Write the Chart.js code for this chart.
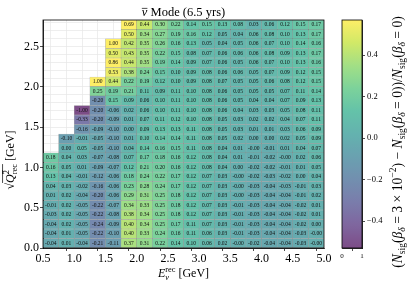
<!DOCTYPE html>
<html>
<head>
<meta charset="utf-8">
<script src="https://cdn.jsdelivr.net/npm/chart.js@4.4.1/dist/chart.umd.min.js"></script>
<style>
html, body { margin: 0; padding: 0; background: #fff; }
#wrap { position: relative; width: 407px; height: 285px; }
#wrap canvas { position: absolute; left: 0; top: 0; }
</style>
</head>
<body>
<div id="wrap">
  <canvas id="heat" width="407" height="285"></canvas>
  <canvas id="cbar" width="407" height="285"></canvas>
</div>
<script>
// bin edges: reconstructed energy (GeV) and sqrt(Q2_rec) (GeV)
const eEdges = [0.5, 0.75, 1.0, 1.25, 1.5, 1.75, 2.0, 2.25, 2.5, 2.75, 3.0, 3.25, 3.5, 3.75, 4.0, 4.25, 4.5, 4.75, 5.0];
const qEdges = [0, 0.118, 0.236, 0.354, 0.471, 0.589, 0.707, 0.825, 0.943, 1.061, 1.179, 1.296, 1.414,
                1.532, 1.650, 1.768, 1.886, 2.003, 2.121, 2.239, 2.357, 2.475, 2.593, 2.711, 2.828];

const eTickLabels = [0.5, 1.0, 1.5, 2.0, 2.5, 3.0, 3.5, 4.0, 4.5, 5.0];
const qTickLabels = [0.0, 0.5, 1.0, 1.5, 2.0, 2.5];
const cbarTicks = [-0.4, -0.2, 0.0, 0.2, 0.4];
const cbarLimits = [-0.53, 0.57];

// relative change per bin, one array per sqrt(Q2) row (row0 = bottom), null = empty bin
const _ = null;
const row23 = [_, _, _, _, _, 0.69, 0.44, 0.30, 0.22, 0.14, 0.15, 0.13, 0.08, 0.03, 0.06, 0.12, 0.15, 0.17];
const row22 = [_, _, _, _, _, 0.50, 0.34, 0.27, 0.19, 0.16, 0.12, 0.05, 0.04, 0.06, 0.08, 0.10, 0.13, 0.17];
const row21 = [_, _, _, _, 1.00, 0.42, 0.35, 0.26, 0.16, 0.13, 0.05, 0.04, 0.05, 0.06, 0.07, 0.10, 0.14, 0.16];
const row20 = [_, _, _, _, 0.50, 0.43, 0.35, 0.22, 0.15, 0.08, 0.07, 0.06, 0.06, 0.06, 0.08, 0.09, 0.13, 0.17];
const row19 = [_, _, _, _, 0.86, 0.44, 0.35, 0.19, 0.14, 0.09, 0.07, 0.06, 0.05, 0.06, 0.07, 0.10, 0.13, 0.16];
const row18 = [_, _, _, _, 0.53, 0.38, 0.24, 0.15, 0.10, 0.09, 0.08, 0.06, 0.06, 0.05, 0.07, 0.09, 0.12, 0.15];
const row17 = [_, _, _, 1.00, 0.44, 0.22, 0.19, 0.12, 0.10, 0.09, 0.08, 0.07, 0.05, 0.05, 0.06, 0.08, 0.12, 0.15];
const row16 = [_, _, _, 0.25, 0.19, 0.21, 0.11, 0.09, 0.11, 0.10, 0.08, 0.06, 0.05, 0.05, 0.05, 0.07, 0.11, 0.14];
const row15 = [_, _, _, -0.20, 0.15, 0.09, 0.06, 0.10, 0.11, 0.10, 0.08, 0.06, 0.05, 0.04, 0.04, 0.07, 0.09, 0.13];
const row14 = [_, _, -1.00, -0.20, -0.06, 0.02, 0.06, 0.10, 0.11, 0.10, 0.08, 0.06, 0.04, 0.03, 0.03, 0.05, 0.08, 0.11];
const row13 = [_, _, -0.33, -0.20, -0.09, 0.01, 0.07, 0.11, 0.12, 0.10, 0.08, 0.05, 0.03, 0.02, 0.02, 0.04, 0.07, 0.11];
const row12 = [_, _, -0.16, -0.09, -0.10, 0.00, 0.09, 0.13, 0.13, 0.11, 0.08, 0.05, 0.03, 0.01, 0.01, 0.03, 0.06, 0.09];
const row11 = [_, -0.10, -0.01, -0.05, -0.10, 0.01, 0.10, 0.14, 0.14, 0.11, 0.08, 0.05, 0.02, 0.00, 0.00, 0.02, 0.05, 0.09];
const row10 = [_, 0.00, 0.05, -0.05, -0.10, 0.04, 0.14, 0.16, 0.15, 0.11, 0.08, 0.04, 0.01, -0.001, -0.01, 0.01, 0.04, 0.07];
const row9  = [0.18, 0.04, 0.03, -0.07, -0.08, 0.07, 0.17, 0.18, 0.16, 0.12, 0.08, 0.04, 0.01, -0.01, -0.02, -0.001, 0.02, 0.06];
const row8  = [0.16, 0.05, 0.01, -0.09, -0.07, 0.12, 0.21, 0.20, 0.16, 0.12, 0.08, 0.04, 0.00, -0.02, -0.02, -0.01, 0.01, 0.05];
const row7  = [0.13, 0.04, -0.01, -0.12, -0.06, 0.18, 0.24, 0.22, 0.17, 0.12, 0.07, 0.03, -0.001, -0.02, -0.03, -0.02, 0.00, 0.04];
const row6  = [0.04, 0.03, -0.02, -0.16, -0.06, 0.23, 0.28, 0.24, 0.17, 0.12, 0.07, 0.03, -0.001, -0.03, -0.04, -0.03, -0.01, 0.03];
const row5  = [0.01, 0.02, -0.04, -0.20, -0.06, 0.29, 0.31, 0.25, 0.18, 0.12, 0.07, 0.03, -0.001, -0.03, -0.04, -0.04, -0.01, 0.02];
const row4  = [-0.01, 0.02, -0.05, -0.22, -0.07, 0.34, 0.33, 0.25, 0.18, 0.12, 0.07, 0.03, -0.01, -0.03, -0.04, -0.04, -0.02, 0.01];
const row3  = [-0.03, 0.02, -0.05, -0.22, -0.08, 0.38, 0.34, 0.25, 0.18, 0.12, 0.07, 0.03, -0.01, -0.03, -0.04, -0.04, -0.02, 0.01];
const row2  = [-0.04, 0.02, -0.05, -0.24, -0.09, 0.40, 0.34, 0.25, 0.17, 0.11, 0.07, 0.03, -0.01, -0.03, -0.04, -0.04, -0.02, 0.00];
const row1  = [-0.04, 0.01, -0.05, -0.22, -0.10, 0.40, 0.33, 0.24, 0.16, 0.11, 0.06, 0.03, -0.01, -0.03, -0.04, -0.04, -0.03, -0.001];
const row0  = [-0.04, 0.01, -0.04, -0.21, -0.11, 0.37, 0.31, 0.22, 0.14, 0.10, 0.06, 0.02, -0.001, -0.02, -0.04, -0.04, -0.03, -0.001];

const rows = [row0, row1, row2, row3, row4, row5, row6, row7, row8, row9, row10, row11,
              row12, row13, row14, row15, row16, row17, row18, row19, row20, row21, row22, row23];

const FONT = '"Liberation Serif", "DejaVu Serif", serif';

// viridis, drawn with alpha 0.7 over white
const viridis = ['#440154', '#482475', '#414487', '#355f8d', '#2a788e', '#21918c',
                 '#22a884', '#44bf70', '#7ad151', '#bddf26', '#fde725'];
function hex(h) { return [1, 3, 5].map(i => parseInt(h.substr(i, 2), 16)); }
function viridisAt(t) {
  t = Math.min(1, Math.max(0, t));
  const p = t * (viridis.length - 1);
  const i = Math.min(viridis.length - 2, Math.floor(p));
  const f = p - i;
  const a = hex(viridis[i]), b = hex(viridis[i + 1]);
  const c = a.map((v, k) => 0.7 * (v + (b[k] - v) * f) + 0.3 * 255);
  return 'rgb(' + c.map(Math.round).join(',') + ')';
}
function colorFor(v) {
  return viridisAt((v - cbarLimits[0]) / (cbarLimits[1] - cbarLimits[0]));
}

const near = (list, v) => list.some(t => Math.abs(t - v) < 1e-6);
const tickIs = (list, c) => !!(c && c.tick && near(list, c.tick.value));

// rich text: segments with italic / smaller size / baseline shift / stacking / overline
function layoutRich(ctx, segs, size) {
  let x = 0, pending = 0;
  const items = [];
  segs.forEach(seg => {
    ctx.font = (seg.it ? 'italic ' : '') + (size * (seg.s || 1)) + 'px ' + FONT;
    const w = ctx.measureText(seg.t).width;
    items.push({ seg, x, w });
    if (seg.stack) { pending = Math.max(pending, w); }
    else { x += Math.max(w, pending); pending = 0; }
  });
  return { items, width: x };
}
function drawRich(ctx, segs, size, cx, cy) {
  const lay = layoutRich(ctx, segs, size);
  const x0 = cx - lay.width / 2;
  const base = cy + size * 0.33;
  lay.items.forEach(({ seg, x, w }) => {
    ctx.font = (seg.it ? 'italic ' : '') + (size * (seg.s || 1)) + 'px ' + FONT;
    ctx.fillText(seg.t, x0 + x, base + (seg.dy || 0) * size);
    if (seg.over) {
      ctx.beginPath();
      ctx.lineWidth = 0.7;
      ctx.moveTo(x0 + x, base - seg.over * size);
      ctx.lineTo(x0 + x + w, base - seg.over * size);
      ctx.stroke();
    }
  });
  return lay.width;
}

const titleSegs = [{ t: 'ν', it: true, over: 0.62 }, { t: ' Mode (6.5 yrs)' }];
const xTitleSegs = [{ t: 'E', it: true }, { t: 'ν', it: true, s: 0.7, dy: 0.25, stack: true }, { t: 'rec', s: 0.7, dy: -0.42 }, { t: ' [GeV]' }];
const yTitleSegs = [{ t: '√' }, { t: 'Q', it: true, over: 0.95 }, { t: '2', s: 0.7, dy: -0.4, stack: true, over: 0.95 },
                    { t: 'rec', s: 0.7, dy: 0.25, over: 0.95 }, { t: ' [GeV]' }];
const sub = t => ({ t, s: 0.7, dy: 0.22 });
const cbarTitleSegs = [
  { t: '(' }, { t: 'N', it: true }, sub('sig'), { t: '(' }, { t: 'β', it: true }, { t: 'δ', it: true, s: 0.7, dy: 0.22 },
  { t: ' = 3 × 10' }, { t: '−2', s: 0.7, dy: -0.4 }, { t: ') − ' },
  { t: 'N', it: true }, sub('sig'), { t: '(' }, { t: 'β', it: true }, { t: 'δ', it: true, s: 0.7, dy: 0.22 }, { t: ' = 0))/' },
  { t: 'N', it: true }, sub('sig'), { t: '(' }, { t: 'β', it: true }, { t: 'δ', it: true, s: 0.7, dy: 0.22 }, { t: ' = 0)' }
];

const frame = {
  id: 'frame',
  afterDraw(chart) {
    const { ctx, chartArea: a } = chart;
    ctx.save();
    ctx.strokeStyle = '#000';
    ctx.lineWidth = 0.8;
    ctx.strokeRect(a.left, a.top, a.right - a.left, a.bottom - a.top);
    ctx.restore();
  }
};

const heatText = {
  id: 'heatText',
  afterDatasetsDraw(chart) {
    const ctx = chart.ctx;
    ctx.save();
    ctx.font = '5.5px ' + FONT;
    ctx.fillStyle = '#111';
    ctx.textAlign = 'center';
    ctx.textBaseline = 'middle';
    chart.data.datasets.forEach((ds, i) => {
      chart.getDatasetMeta(i).data.forEach((bar, j) => {
        ctx.fillText(ds.data[j].v.toFixed(2), bar.x, (bar.y + bar.base) / 2 + 0.3);
      });
    });
    ctx.restore();
  },
  afterDraw(chart) {
    const { ctx, chartArea: a } = chart;
    ctx.save();
    ctx.fillStyle = '#000';
    ctx.strokeStyle = '#000';
    ctx.textAlign = 'left';
    ctx.textBaseline = 'alphabetic';
    drawRich(ctx, titleSegs, 12.5, (a.left + a.right) / 2, a.top - 8);
    drawRich(ctx, xTitleSegs, 12, (a.left + a.right) / 2, a.bottom + 25);
    ctx.translate(a.left - 33, (a.top + a.bottom) / 2 + 26);
    ctx.rotate(-Math.PI / 2);
    drawRich(ctx, yTitleSegs, 12, 0, 0);
    ctx.restore();
  }
};

const datasets = rows.map((row, k) => ({
  data: row.map((v, i) => v === null ? null : { x: (eEdges[i] + eEdges[i + 1]) / 2, y: [qEdges[k], qEdges[k + 1]], v })
           .filter(d => d !== null),
  backgroundColor: c => (c.raw ? colorFor(c.raw.v) : '#21918c'),
  borderColor: 'rgba(40,40,40,0.35)',
  borderWidth: 0.5,
  borderSkipped: false,
  grouped: false,
  barPercentage: 1,
  categoryPercentage: 1
}));

new Chart(document.getElementById('heat'), {
  type: 'bar',
  data: { datasets },
  options: {
    responsive: false,
    animation: false,
    layout: { padding: { left: 0, top: 20, right: 83, bottom: 0 } },
    plugins: { legend: { display: false }, tooltip: { enabled: false } },
    scales: {
      x: {
        type: 'linear', min: 0.5, max: 5.0, offset: false,
        afterBuildTicks: s => { s.ticks = eEdges.map(v => ({ value: v })); },
        afterFit: s => { s.height = 37; },
        ticks: {
          autoSkip: false, maxRotation: 0, padding: 1, color: '#000',
          font: { family: FONT, size: 12 },
          callback: v => near(eTickLabels, v) ? v.toFixed(1) : ''
        },
        grid: {
          color: '#e6e6e6', lineWidth: 0.7, tickLength: 3,
          tickColor: c => tickIs(eTickLabels, c) ? '#000' : 'rgba(0,0,0,0)'
        },
        border: { color: '#000', width: 0.8 }
      },
      y: {
        type: 'linear', min: 0, max: qEdges[qEdges.length - 1],
        afterFit: s => { s.width = 43; },
        ticks: {
          stepSize: 0.1, includeBounds: false, autoSkip: false, padding: 1, color: '#000',
          font: { family: FONT, size: 12 },
          callback: v => near(qTickLabels, v) ? v.toFixed(1) : ''
        },
        grid: {
          color: '#e6e6e6', lineWidth: 0.7, tickLength: 3,
          tickColor: c => tickIs(qTickLabels, c) ? '#000' : 'rgba(0,0,0,0)'
        },
        border: { color: '#000', width: 0.8 }
      }
    }
  },
  plugins: [heatText, frame]
});

// colour bar
const cbarText = {
  id: 'cbarText',
  afterDraw(chart) {
    const { ctx, chartArea: a } = chart;
    ctx.save();
    ctx.fillStyle = '#000';
    ctx.strokeStyle = '#000';
    const w10 = layoutRich(ctx, cbarTitleSegs, 10).width;
    const size = 10 * 252 / w10;
    ctx.translate(a.right + 35, (a.top + a.bottom) / 2 + 8);
    ctx.rotate(-Math.PI / 2);
    drawRich(ctx, cbarTitleSegs, size, 0, 0);
    ctx.restore();
  }
};

new Chart(document.getElementById('cbar'), {
  type: 'bar',
  data: {
    datasets: [{
      data: [{ x: 0.5, y: cbarLimits }],
      backgroundColor: c => {
        const ch = c.chart;
        if (!ch.chartArea) return null;
        const ys = ch.scales.y;
        const g = ch.ctx.createLinearGradient(0, ys.getPixelForValue(cbarLimits[0]), 0, ys.getPixelForValue(cbarLimits[1]));
        for (let i = 0; i <= 40; i++) g.addColorStop(i / 40, viridisAt(i / 40));
        return g;
      },
      borderWidth: 0,
      grouped: false,
      barPercentage: 1,
      categoryPercentage: 1
    }]
  },
  options: {
    responsive: false,
    animation: false,
    layout: { padding: { left: 342, top: 20, right: 0, bottom: 0 } },
    plugins: { legend: { display: false }, tooltip: { enabled: false } },
    scales: {
      x: {
        type: 'linear', min: 0, max: 1, offset: false,
        afterBuildTicks: s => { s.ticks = [{ value: 0 }, { value: 1 }]; },
        afterFit: s => { s.height = 37; },
        ticks: { autoSkip: false, maxRotation: 0, padding: 1, color: '#000', font: { family: FONT, size: 7 } },
        grid: { drawOnChartArea: false, tickLength: 3, tickColor: '#000', lineWidth: 0.7 },
        border: { color: '#000', width: 0.8 }
      },
      y: {
        type: 'linear', position: 'right', min: cbarLimits[0], max: cbarLimits[1],
        afterBuildTicks: s => { s.ticks = cbarTicks.map(v => ({ value: v })); },
        afterFit: s => { s.width = 45; },
        ticks: {
          autoSkip: false, padding: 2, color: '#000', font: { family: FONT, size: 8.5 },
          callback: v => v.toFixed(1).replace('-', '−')
        },
        grid: { drawOnChartArea: false, tickLength: 3, tickColor: '#000', lineWidth: 0.7 },
        border: { color: '#000', width: 0.8 }
      }
    }
  },
  plugins: [cbarText, frame]
});
</script>
</body>
</html>
